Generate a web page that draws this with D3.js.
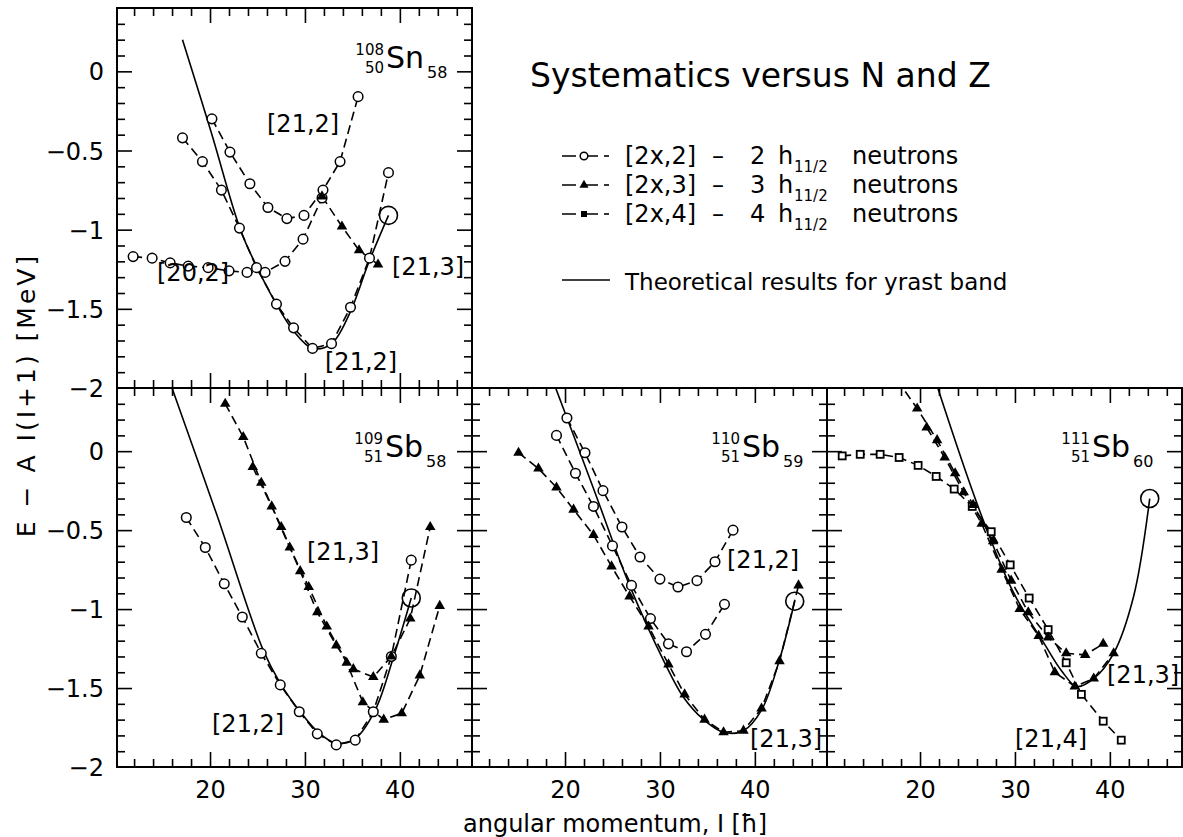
<!DOCTYPE html>
<html><head><meta charset="utf-8">
<script src="https://cdn.jsdelivr.net/npm/d3@7"></script>
<style>
body{margin:0;background:#fff}
svg text{font-family:"DejaVu Sans",sans-serif;fill:#000}
</style>
</head><body>
<svg id="c" width="1183" height="837"></svg>
<script>
// ---------- axis values ----------
const xDomain = [10.2, 47.6];
const yDomain = [-2, 0.4];
const xMajorTicks = [20, 30, 40];
const xTickLabels = ["20", "30", "40"];
const yMajorTicks = [0, -0.5, -1, -1.5, -2];
const yTickLabels = ["0", "\u22120.5", "\u22121", "\u22121.5", "\u22122"];

// ---------- 108Sn58 ----------
const sn108Theory = [[17.1,0.20],[20.1,-0.38],[23.2,-1.00],[24.9,-1.23],[26.8,-1.45],[28.8,-1.64],[30.8,-1.75],[32.8,-1.72],[34.7,-1.53],[36.7,-1.21],[38.8,-0.91]];
const sn108Band212Upper = [[20.2,-0.30],[22.1,-0.51],[24.2,-0.71],[26.1,-0.86],[28.1,-0.93],[29.9,-0.91],[31.9,-0.75],[33.7,-0.57],[35.6,-0.16]];
const sn108Band212Lower = [[17.1,-0.42],[19.2,-0.57],[21.2,-0.75],[23.1,-0.99],[24.9,-1.24],[27.0,-1.47],[28.8,-1.62],[30.8,-1.75],[32.8,-1.72],[34.8,-1.49],[36.8,-1.18],[38.8,-0.64]];
const sn108Band202 = [[11.9,-1.17],[13.9,-1.18],[15.8,-1.21],[17.7,-1.23],[19.8,-1.24],[22.0,-1.26],[23.9,-1.27],[25.8,-1.27],[27.9,-1.20],[29.8,-1.06],[31.8,-0.80]];
const sn108Band213 = [[31.8,-0.79],[33.9,-0.98],[35.7,-1.13],[37.7,-1.22]];

// ---------- 109Sb58 ----------
const sb109Theory = [[15.7,0.45],[20.7,-0.40],[25.6,-1.26],[27.4,-1.47],[29.5,-1.65],[31.4,-1.78],[33.3,-1.85],[35.3,-1.82],[37.4,-1.64],[39.3,-1.31],[41.2,-0.93]];
const sb109Band212 = [[17.5,-0.42],[19.5,-0.61],[21.5,-0.84],[23.4,-1.05],[25.4,-1.28],[27.4,-1.48],[29.4,-1.65],[31.3,-1.79],[33.3,-1.86],[35.3,-1.83],[37.2,-1.65],[39.1,-1.30],[41.2,-0.69]];
const sb109Band213a = [[21.6,0.30],[23.5,0.09],[25.4,-0.20],[27.5,-0.48],[29.5,-0.76],[31.3,-1.02],[33.3,-1.23],[35.1,-1.38],[37.2,-1.43],[39.1,-1.30],[41.1,-1.06],[43.2,-0.48]];
const sb109Band213b = [[24.5,-0.10],[26.5,-0.35],[28.4,-0.61],[30.4,-0.86],[32.3,-1.11],[34.4,-1.34],[36.1,-1.59],[38.3,-1.70],[40.2,-1.66],[42.1,-1.42],[44.2,-0.98]];

// ---------- 110Sb59 ----------
const sb110Theory = [[18.7,0.45],[22.9,-0.22],[26.8,-0.85],[30.5,-1.34],[32.5,-1.56],[34.6,-1.70],[36.7,-1.78],[38.8,-1.77],[40.7,-1.64],[42.5,-1.34],[44.2,-0.95]];
const sb110Band212Upper = [[20.2,0.21],[22.1,-0.01],[24.0,-0.25],[26.0,-0.48],[27.9,-0.67],[30.0,-0.81],[31.9,-0.86],[33.9,-0.82],[35.8,-0.70],[37.7,-0.50]];
const sb110Band212Lower = [[19.1,0.10],[21.1,-0.14],[23.0,-0.35],[25.0,-0.60],[27.0,-0.85],[29.0,-1.06],[30.9,-1.22],[32.8,-1.27],[34.8,-1.16],[36.8,-0.97]];
const sb110Band213 = [[15.1,-0.01],[17.2,-0.11],[19.1,-0.23],[20.9,-0.37],[23.0,-0.53],[24.9,-0.73],[26.8,-0.92],[28.8,-1.11],[30.9,-1.35],[32.6,-1.54],[34.7,-1.70],[36.7,-1.78],[38.8,-1.77],[40.7,-1.63],[42.6,-1.33],[44.6,-0.85]];

// ---------- 111Sb60 ----------
const sb111Theory = [[21.6,0.45],[26.3,-0.38],[29.8,-0.89],[33.2,-1.23],[34.9,-1.39],[36.5,-1.49],[38.3,-1.44],[40.4,-1.28],[42.5,-0.92],[44.2,-0.30]];
const sb111Band214 = [[11.8,-0.03],[13.7,-0.02],[15.8,-0.02],[17.8,-0.04],[19.8,-0.09],[21.7,-0.16],[23.6,-0.24],[25.5,-0.35],[27.5,-0.51],[29.5,-0.72],[31.5,-0.93],[33.5,-1.13],[35.4,-1.34],[37.0,-1.54],[39.3,-1.71],[41.2,-1.83]];
const sb111Band213a = [[17.6,0.45],[19.7,0.27],[21.8,0.07],[23.7,-0.14],[25.6,-0.34],[27.7,-0.57],[29.6,-0.82],[31.4,-1.02],[33.5,-1.18],[35.4,-1.28],[37.4,-1.29],[39.3,-1.22]];
const sb111Band213b = [[20.7,0.15],[22.6,-0.04],[24.6,-0.26],[26.5,-0.46],[28.6,-0.75],[30.5,-1.00],[32.5,-1.17],[34.2,-1.40],[36.3,-1.49],[38.3,-1.44],[40.4,-1.28]];

// ---------- texts ----------
const nucleusLabels = [["108","50","Sn","58"],["109","51","Sb","58"],["110","51","Sb","59"],["111","51","Sb","60"]];
const legendCodes = ["[2x,2]","[2x,3]","[2x,4]"];
const legendCounts = ["2","3","4"];
const titleText = "Systematics versus N and Z";
const theoryText = "Theoretical results for yrast band";
const yTitle = "E \u2212 A I(I+1) [MeV]";
const xTitle = "angular momentum, I [\u0127]";

// ---------- drawing ----------
const svg = d3.select("#c");
const W = 355;
const panels = [
  {x0:117, y0:8, h:380, showY:true, showX:false, lab:nucleusLabels[0], lx:386, lb:68,
   theory:sn108Theory,
   series:[{d:sn108Band202,m:"circle"},{d:sn108Band212Upper,m:"circle"},{d:sn108Band212Lower,m:"circle"},{d:sn108Band213,m:"triangle"}],
   notes:[["[21,2]",267,132],["[20,2]",157,281],["[21,3]",392,275],["[21,2]",325,370]]},
  {x0:117, y0:388, h:379, showY:true, showX:true, lab:nucleusLabels[1], lx:385, lb:457,
   theory:sb109Theory,
   series:[{d:sb109Band212,m:"circle"},{d:sb109Band213a,m:"triangle"},{d:sb109Band213b,m:"triangle"}],
   notes:[["[21,3]",307,560],["[21,2]",212,732]]},
  {x0:472, y0:388, h:379, showY:false, showX:true, lab:nucleusLabels[2], lx:742, lb:457,
   theory:sb110Theory,
   series:[{d:sb110Band212Upper,m:"circle"},{d:sb110Band212Lower,m:"circle"},{d:sb110Band213,m:"triangle"}],
   notes:[["[21,2]",727,568],["[21,3]",750,747]]},
  {x0:827, y0:388, h:379, showY:false, showX:true, lab:nucleusLabels[3], lx:1092, lb:457,
   theory:sb111Theory,
   series:[{d:sb111Band214,m:"square"},{d:sb111Band213a,m:"triangle"},{d:sb111Band213b,m:"triangle"}],
   notes:[["[21,3]",1107,683],["[21,4]",1015,747]]}
];

const triPath = d3.symbol().type(d3.symbolTriangle).size(48)();

function drawMarker(g, type, cx, cy) {
  if (type === "circle") {
    g.append("circle").attr("cx",cx).attr("cy",cy).attr("r",4.8)
      .attr("fill","#fff").attr("stroke","#000").attr("stroke-width",1.5);
  } else if (type === "triangle") {
    g.append("path").attr("d",triPath).attr("transform",`translate(${cx},${cy})`).attr("fill","#000");
  } else if (type === "square") {
    g.append("rect").attr("x",cx-3.5).attr("y",cy-3.5).attr("width",7).attr("height",7)
      .attr("fill","#fff").attr("stroke","#000").attr("stroke-width",1.8);
  }
}

const minorX = d3.range(12, 47.6, 2).filter(v => !xMajorTicks.includes(v));
const minorY = d3.range(-19, 4).map(v => v/10).filter(v => Math.abs(v*2 - Math.round(v*2)) > 1e-6);
const majorYInner = [0, -0.5, -1, -1.5];

panels.forEach((p, i) => {
  const x = d3.scaleLinear().domain(xDomain).range([0, W]);
  const y = d3.scaleLinear().domain(yDomain).range([p.h, 0]);
  const g = svg.append("g").attr("transform", `translate(${p.x0},${p.y0})`);

  const clipId = "clip" + i;
  g.append("clipPath").attr("id", clipId).append("rect").attr("width", W).attr("height", p.h);

  const addAxis = (axis, tr) => {
    const a = g.append("g").attr("transform", tr).call(axis);
    a.select(".domain").remove();
    a.selectAll("line").attr("stroke","#000").attr("stroke-width",1.6);
    return a;
  };
  addAxis(d3.axisBottom(x).tickValues(minorX).tickSize(-8).tickFormat(""), `translate(0,${p.h})`);
  addAxis(d3.axisBottom(x).tickValues(xMajorTicks).tickSize(-15).tickFormat(""), `translate(0,${p.h})`);
  addAxis(d3.axisTop(x).tickValues(minorX).tickSize(-8).tickFormat(""), `translate(0,0)`);
  addAxis(d3.axisTop(x).tickValues(xMajorTicks).tickSize(-15).tickFormat(""), `translate(0,0)`);
  addAxis(d3.axisLeft(y).tickValues(minorY).tickSize(-8).tickFormat(""), `translate(0,0)`);
  addAxis(d3.axisLeft(y).tickValues(majorYInner).tickSize(-15).tickFormat(""), `translate(0,0)`);
  addAxis(d3.axisRight(y).tickValues(minorY).tickSize(-8).tickFormat(""), `translate(${W},0)`);
  addAxis(d3.axisRight(y).tickValues(majorYInner).tickSize(-15).tickFormat(""), `translate(${W},0)`);

  if (p.showY) {
    const a = g.append("g").call(d3.axisLeft(y).tickValues(yMajorTicks).tickSize(0).tickPadding(13)
      .tickFormat((d,k) => yTickLabels[k]));
    a.select(".domain").remove();
    a.attr("font-family", null).attr("font-size", null);
    a.selectAll("text").attr("font-size", 24).attr("dy", "0.36em");
  }
  if (p.showX) {
    const a = g.append("g").attr("transform", `translate(0,${p.h})`)
      .call(d3.axisBottom(x).tickValues(xMajorTicks).tickSize(0).tickPadding(14)
      .tickFormat((d,k) => xTickLabels[k]));
    a.select(".domain").remove();
    a.attr("font-family", null).attr("font-size", null);
    a.selectAll("text").attr("font-size", 24);
  }

  g.append("rect").attr("width", W).attr("height", p.h).attr("fill","none")
    .attr("stroke","#000").attr("stroke-width",2);

  const plot = g.append("g").attr("clip-path", `url(#${clipId})`);
  const smooth = d3.line().x(d => x(d[0])).y(d => y(d[1])).curve(d3.curveCatmullRom.alpha(0.5));
  plot.append("path").attr("d", smooth(p.theory)).attr("fill","none")
    .attr("stroke","#000").attr("stroke-width",1.6);
  const last = p.theory[p.theory.length-1];
  const lin = d3.line().x(d => x(d[0])).y(d => y(d[1]));
  p.series.forEach(s => {
    plot.append("path").attr("d", lin(s.d)).attr("fill","none")
      .attr("stroke","#000").attr("stroke-width",1.6).attr("stroke-dasharray","9,5");
  });
  p.series.forEach(s => {
    s.d.forEach(d => drawMarker(plot, s.m, x(d[0]), y(d[1])));
  });
  plot.append("circle").attr("cx", x(last[0])).attr("cy", y(last[1])).attr("r", 9)
    .attr("fill","none").attr("stroke","#000").attr("stroke-width",1.6);

  p.notes.forEach(n => {
    svg.append("text").attr("x", n[1]).attr("y", n[2]).attr("font-size", 24).text(n[0]);
  });

  // nucleus label (mass number, proton number, symbol, neutron number)
  const [A, Z, sym, N] = p.lab;
  const t = svg.append("text").attr("font-size", 15);
  t.append("tspan").attr("x", p.lx - 2).attr("y", p.lb - 13).attr("text-anchor","end").text(A);
  t.append("tspan").attr("x", p.lx - 2).attr("y", p.lb + 5).attr("text-anchor","end").text(Z);
  t.append("tspan").attr("x", p.lx).attr("y", p.lb).attr("font-size", 30).text(sym);
  t.append("tspan").attr("x", p.lx + 41).attr("y", p.lb + 10).attr("font-size", 16).text(N);
});

// legend
svg.append("text").attr("x", 530).attr("y", 87).attr("font-size", 33).text(titleText);
const legendMarkers = ["circle","triangle","square"];
const rowBase = [164, 193, 222];
legendCodes.forEach((c, k) => {
  const yb = rowBase[k], ym = yb - 8;
  svg.append("line").attr("x1",562).attr("x2",598).attr("y1",ym).attr("y2",ym)
    .attr("stroke","#000").attr("stroke-width",1.6).attr("stroke-dasharray","14,8,30");
  svg.append("line").attr("x1",604).attr("x2",609).attr("y1",ym).attr("y2",ym)
    .attr("stroke","#000").attr("stroke-width",1.6);
  const gm = svg.append("g");
  if (legendMarkers[k] === "circle") {
    gm.append("circle").attr("cx",584).attr("cy",ym).attr("r",3.8).attr("fill","#fff").attr("stroke","#000").attr("stroke-width",1.5);
  } else if (legendMarkers[k] === "triangle") {
    gm.append("path").attr("d", d3.symbol().type(d3.symbolTriangle).size(36)()).attr("transform",`translate(584,${ym})`);
  } else {
    gm.append("rect").attr("x",581).attr("y",ym-3).attr("width",6).attr("height",6);
  }
  const t = svg.append("text").attr("y", yb).attr("font-size", 24);
  t.append("tspan").attr("x", 625).text(c);
  t.append("tspan").attr("x", 712).text("\u2013");
  t.append("tspan").attr("x", 750).text(legendCounts[k]);
  t.append("tspan").attr("x", 778).text("h");
  t.append("tspan").attr("x", 794).attr("dy", 8).attr("font-size", 15).text("11/2");
  t.append("tspan").attr("x", 852).attr("dy", -8).text("neutrons");
});
svg.append("line").attr("x1",562).attr("x2",610).attr("y1",280).attr("y2",280)
  .attr("stroke","#000").attr("stroke-width",1.6);
svg.append("text").attr("x",625).attr("y",290).attr("font-size",23).text(theoryText);

// axis titles
svg.append("text").attr("transform","translate(35,395) rotate(-90)").attr("text-anchor","middle")
  .attr("font-size",25).attr("letter-spacing",3).text(yTitle);
svg.append("text").attr("x",615).attr("y",832).attr("text-anchor","middle")
  .attr("font-size",24).text(xTitle);
</script>
</body></html>
